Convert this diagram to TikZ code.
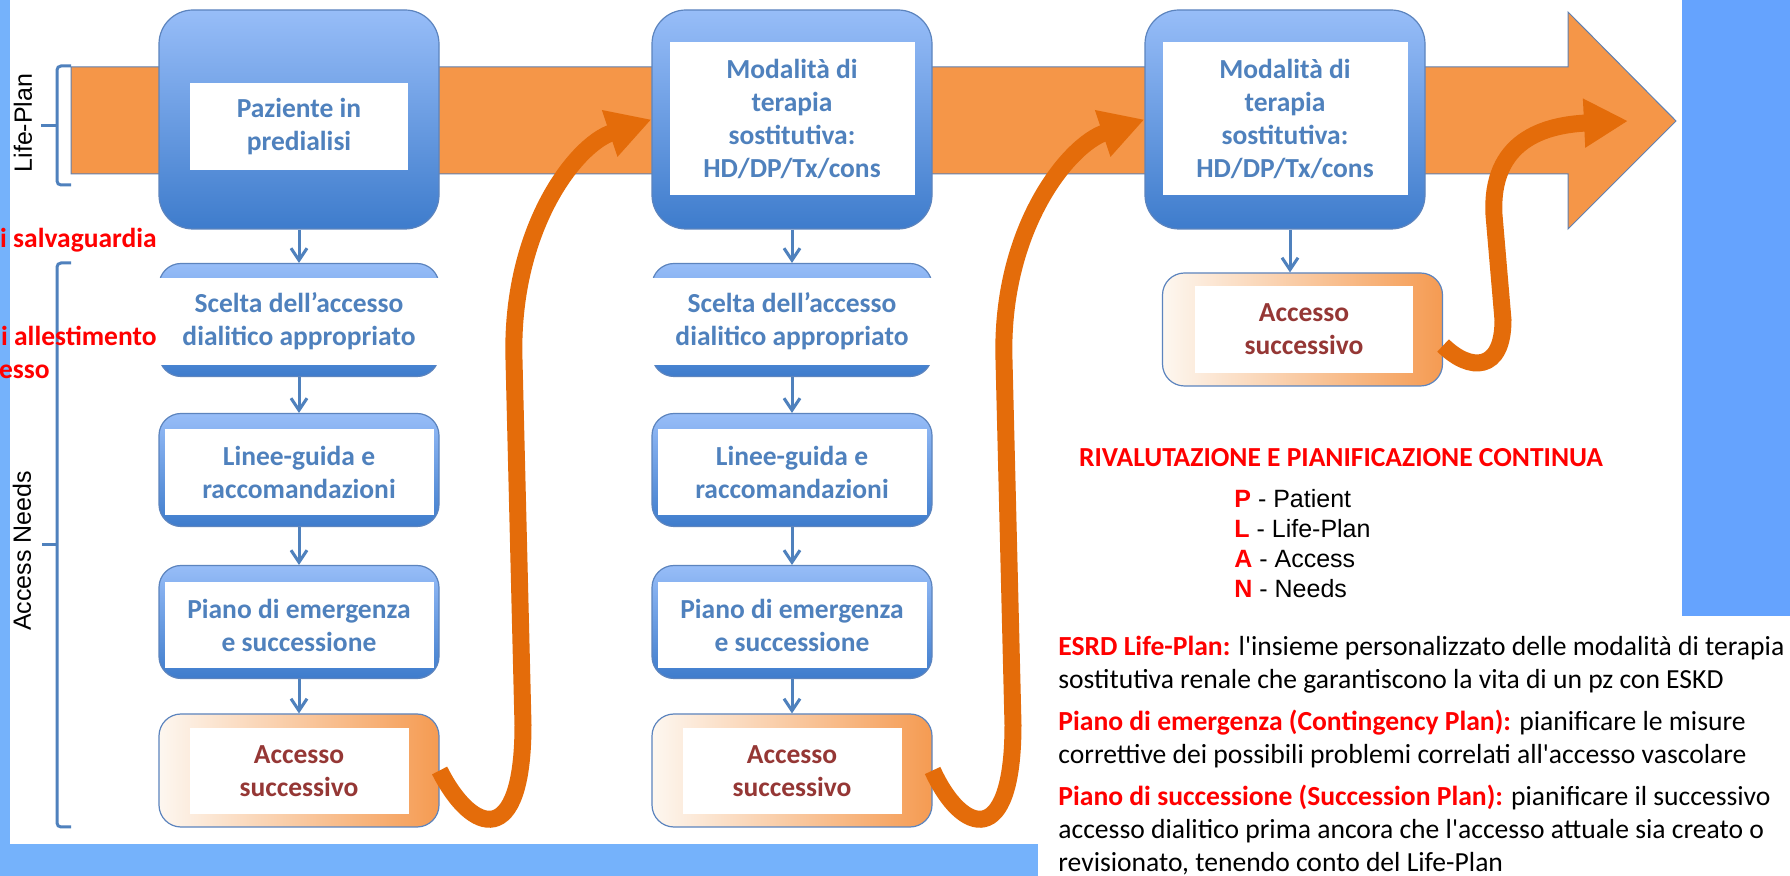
\documentclass[tikz,border=0pt]{standalone}
\usepackage{fontspec}
\setmainfont{Carlito}
\newfontfamily\arialfont{Liberation Sans}
\usetikzlibrary{positioning,arrows.meta}

\definecolor{panelblue}{RGB}{101,163,254}
\definecolor{barblue}{RGB}{117,178,251}
\definecolor{bandorange}{RGB}{245,150,72}
\definecolor{curveorange}{RGB}{228,108,10}
\definecolor{boxlight}{RGB}{151,189,248}
\definecolor{boxdark}{RGB}{62,124,204}
\definecolor{boxline}{RGB}{92,132,190}
\definecolor{boxtext}{RGB}{79,129,189}
\definecolor{acctext}{RGB}{149,55,53}
\definecolor{accleft}{RGB}{253,247,240}
\definecolor{accright}{RGB}{245,155,82}
\definecolor{arrowline}{RGB}{96,128,176}

\newcommand{\boxfont}{\fontsize{13.75}{16.5}\selectfont\bfseries}
\newcommand{\redbf}[1]{\textcolor{red}{\textbf{#1}}}

\begin{document}
\begin{tikzpicture}[x=0.5pt,y=-0.5pt,
  topbox/.style={draw=boxline,line width=0.6pt,rounded corners=17pt,top color=boxlight,bottom color=boxdark,minimum width=140pt,minimum height=109.5pt,inner sep=0pt},
  stepbox/.style={draw=boxline,line width=0.6pt,rounded corners=11pt,top color=boxlight,bottom color=boxdark,minimum width=140pt,minimum height=56.5pt,inner sep=0pt},
  accbox/.style={draw=boxline,line width=0.6pt,rounded corners=11pt,left color=accleft,right color=accright,minimum width=140pt,minimum height=56.5pt,inner sep=0pt},
  whitebox/.style={fill=white,inner sep=0pt,align=center,font=\boxfont,text=boxtext},
  flow/.style={draw=boxtext,line width=1.5pt,-{Straight Barb[length=6pt,width=8pt]}},
  curvy/.style={draw=curveorange,line width=8.5pt,-{Triangle[length=22pt,width=23pt]}},
  brace/.style={draw=boxtext,line width=1.5pt,rounded corners=2pt},
  redlabel/.style={text=red,font=\boxfont,inner sep=0pt},
  sidelabel/.style={rotate=90,font=\arialfont\fontsize{12.5}{15}\selectfont,inner sep=0pt}]

  \useasboundingbox (0,0) rectangle (1790,876);
  \fill[white] (0,0) rectangle (1790,876);
  \fill[barblue] (0,0) rectangle (10,876);
  \fill[barblue] (0,844) rectangle (1038,876);
  \fill[panelblue] (1682,0) rectangle (1790,616);

  % life-plan band
  \fill[bandorange,draw=arrowline,line width=0.5pt] (71,67) -- (1568,67) -- (1568,12) -- (1676,121)
    -- (1568,229) -- (1568,174) -- (71,174) -- cycle;

  % brackets and side labels
  \draw[brace] (71,66) -- (57,66) -- (57,185) -- (71,185);
  \draw[brace] (57,126) -- (41,126);
  \draw[brace] (71,263) -- (57,263) -- (57,827) -- (71,827);
  \draw[brace] (57,545) -- (42,545);
  \node[sidelabel] (lifeplan) at (23,123) {Life-Plan};
  \node[sidelabel] (needs) at (22,551) {Access Needs};

  % top boxes
  \node[topbox] (paz) at (299,119.5) {};
  \node[whitebox,minimum width=109pt,minimum height=43.5pt] (pazt) at (299,126.5) {Paziente in\\predialisi};
  \foreach \n/\x in {mod2/792,mod3/1285}{
    \node[topbox] (\n) at (\x,119.5) {};
    \node[whitebox,minimum width=122.5pt,minimum height=76.5pt] (\n t) at (\x,118.5)
      {Modalità di\\terapia\\sostitutiva:\\HD/DP/Tx/cons};
  }

  % access columns
  \foreach \c/\x in {1/299,2/792}{
    \node[stepbox] (scelta\c) at (\x,320) {};
    \node[whitebox,minimum width=141pt,minimum height=43.5pt] (scelta\c t) at (\x,321.5)
      {Scelta dell’accesso\\dialitico appropriato};
    \node[stepbox] (linee\c) at (\x,470) {};
    \node[whitebox,minimum width=134.5pt,minimum height=43pt] (linee\c t) at (\x,472)
      {Linee-guida e\\raccomandazioni};
    \node[stepbox] (piano\c) at (\x,622) {};
    \node[whitebox,minimum width=134.5pt,minimum height=43pt] (piano\c t) at (\x,625)
      {Piano di emergenza\\e successione};
    \node[accbox] (acc\c) at (\x,770.5) {};
    \node[whitebox,text=acctext,minimum width=109.5pt,minimum height=43pt] (acc\c t) at (\x,771)
      {Accesso\\successivo};
  }
  \node[accbox] (acc3) at (1302.5,329.5) {};
  \node[whitebox,text=acctext,minimum width=109pt,minimum height=43.5pt] (acc3t) at (1304,329.5)
    {Accesso\\successivo};

  \foreach \from/\to in {paz/scelta1,scelta1/linee1,linee1/piano1,piano1/acc1,
                         mod2/scelta2,scelta2/linee2,linee2/piano2,piano2/acc2}
    \draw[flow] (\from) -- (\to);
  \draw[flow] ([xshift=2.5pt]mod3.south) -- ([xshift=2.5pt]mod3.south |- acc3.north);

  % next access loops
  \coordinate (goal) at (1628,121);
  \draw[curvy] (acc1.east) .. controls (472,835) and (523,850) .. (523,725) -- (514,360)
    .. controls (510,230) and (575,145) .. (mod2.west);
  \draw[curvy] (acc2.east) .. controls (962,835) and (1013,850) .. (1013,725) -- (1004,360)
    .. controls (1000,230) and (1068,145) .. (mod3.west);
  \draw[curvy] ([yshift=-8pt]acc3.east) .. controls (1470,372) and (1503,372) .. (1503,320)
    -- (1494,215) .. controls (1490,140) and (1545,125) .. (goal);

  % left labels
  \node[redlabel,anchor=base east] (salv) at (157,248) {i salvaguardia};
  \node[redlabel,anchor=base east] (allest) at (157,346) {i allestimento};
  \node[redlabel,anchor=base east] (esso) at (50,379) {esso};

  % notes on the right (base = last line)
  \node[redlabel] (title) at (1341,458) {RIVALUTAZIONE E PIANIFICAZIONE CONTINUA};
  \node[anchor=base west,align=left,inner sep=0pt,font=\arialfont\fontsize{12.5}{15}\selectfont] (plan) at (1234,598)
    {\redbf{P} - Patient\\\redbf{L} - Life-Plan\\\redbf{A} - Access\\\redbf{N} - Needs};
  \node[anchor=base west,align=left,inner sep=0pt,font=\fontsize{13.8}{16.5}\selectfont] (notes) at (1058,871)
    {\redbf{ESRD Life-Plan:} l\textquotesingle insieme personalizzato delle modalità di terapia\\
     sostitutiva renale che garantiscono la vita di un pz con ESKD\\[4.5pt]
     \redbf{Piano di emergenza (Contingency Plan):} pianificare le misure\\
     correttive dei possibili problemi correlati all\textquotesingle accesso vascolare\\[4.5pt]
     \redbf{Piano di successione (Succession Plan):} pianificare il successivo\\
     accesso dialitico prima ancora che l\textquotesingle accesso attuale sia creato o\\
     revisionato, tenendo conto del Life-Plan};
\end{tikzpicture}
\end{document}
